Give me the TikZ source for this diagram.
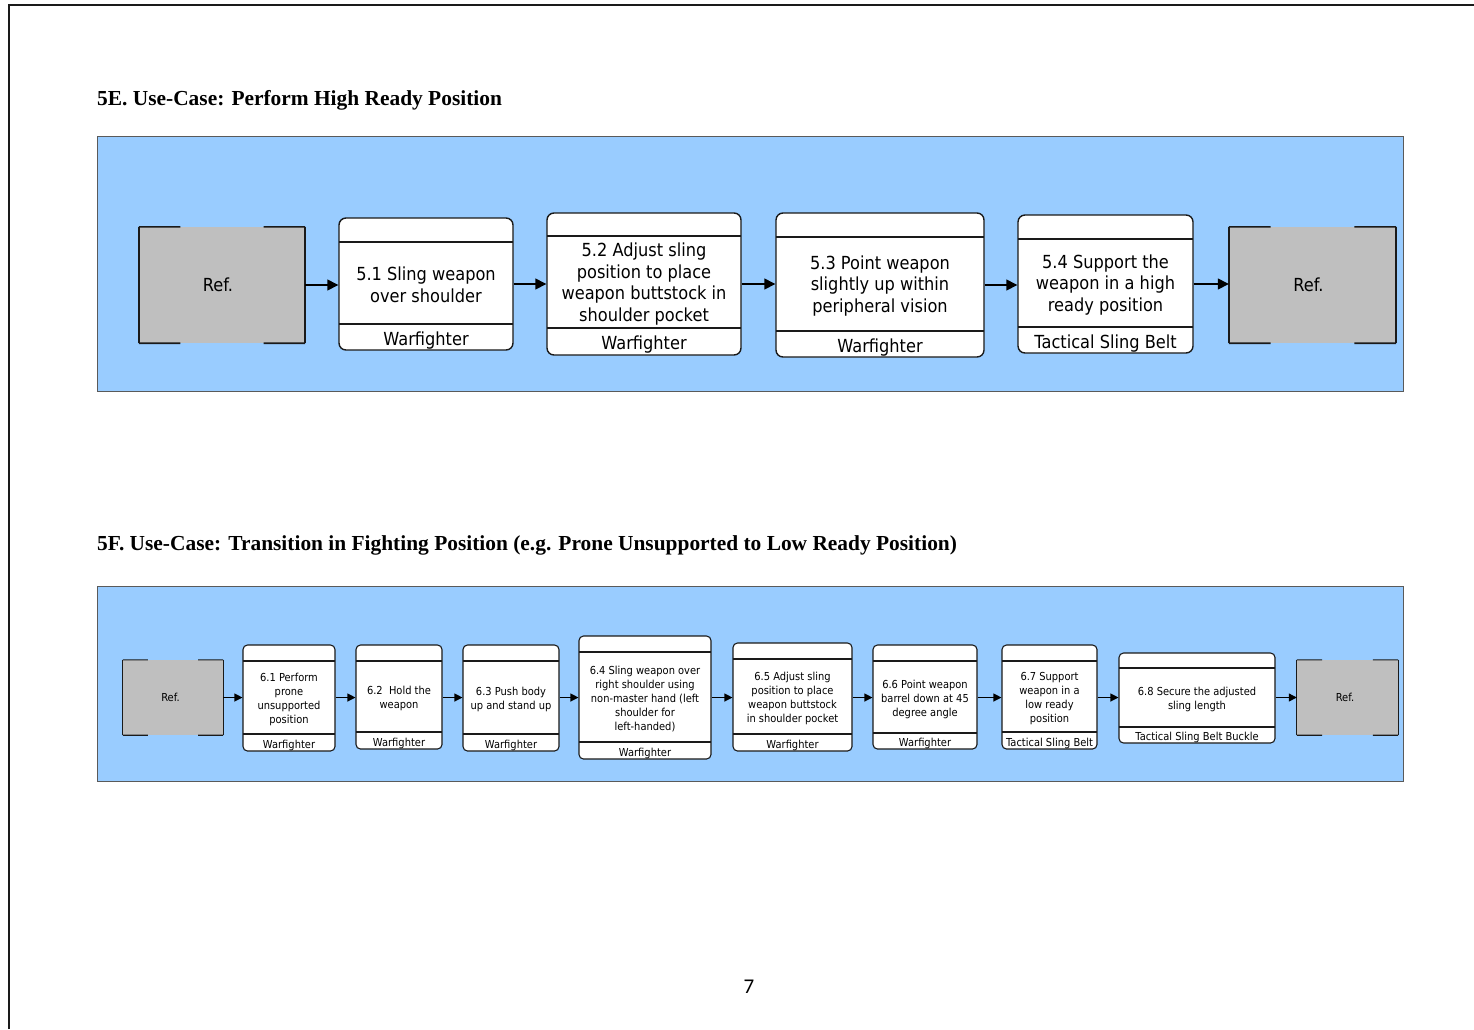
\documentclass[tikz,border=0pt]{standalone}
\usepackage{fontspec}
\setmainfont{Liberation Serif}
\newfontfamily\boxfont[FakeStretch=0.9]{DejaVu Sans}
\newfontfamily\folio{Carlito}
\usetikzlibrary{fit,calc,arrows.meta}
\definecolor{panelblue}{HTML}{99CCFF}
\definecolor{refgray}{HTML}{BFBFBF}
\definecolor{panelline}{HTML}{5A5A5A}
\definecolor{inkdark}{HTML}{1A1A1A}

% activity box: name, x1, y1, x2, y2, header line y, footer line y, action text, performer
\newcommand{\actbox}[9]{%
  \node[fit={(#2,#3) (#4,#5)}, actframe] (#1) {};
  \draw[sepline] (#2,#6) -- (#4,#6);
  \draw[sepline] (#2,#7) -- (#4,#7);
  \node[actlabel] (#1-txt) at ({(#2+#4)/2},{(#6+#7)/2}) {#8};
  \node[rolelabel] (#1-role) at ({(#2+#4)/2},{(#7+#5)/2}) {#9};
}
% reference box: name, x1, y1, x2, y2, label
\newcommand{\refbox}[6]{%
  \node[fit={(#2,#3) (#4,#5)}, inner sep=0pt, fill=refgray] (#1) {};
  \node[reflabel] at (#1) {#6};
  \draw[refedge] (#1.north west) -- (#1.south west);
  \draw[refedge] (#1.north east) -- (#1.south east);
  \draw[refedge] (#1.north west) -- ($(#1.north west)!0.25!(#1.north east)$);
  \draw[refedge] (#1.north east) -- ($(#1.north east)!0.25!(#1.north west)$);
  \draw[refedge] (#1.south west) -- ($(#1.south west)!0.25!(#1.south east)$);
  \draw[refedge] (#1.south east) -- ($(#1.south east)!0.25!(#1.south west)$);
}

\begin{document}
\begin{tikzpicture}[x=1pt, y=-1pt,
  panel/.style={fill=panelblue, draw=panelline, line width=1pt},
  heading/.style={anchor=base west, inner sep=0pt, font=\bfseries\fontsize{21.4}{24}\selectfont},
  flow/.style={draw=black, -{Triangle[length=11pt,width=11pt]}, line width=1.4pt}]

\useasboundingbox (0,0) rectangle (1474,1029);
\fill[white] (0,0) rectangle (1474,1029);

% page frame
\draw[inkdark, line width=2pt] (9,1029) -- (9,5) -- (1474,5);

% ---------- 5E ----------
\node[heading] (titleE) at (97,105) {5E. Use-Case: Perform High Ready Position};
\path[panel] (97,136) rectangle (1403,391);

\begin{scope}[
  actframe/.style={draw=inkdark, fill=white, line width=1.4pt, rounded corners=7pt, inner sep=0pt, rectangle},
  sepline/.style={draw=inkdark, line width=1.4pt},
  actlabel/.style={align=center, inner sep=0pt, yshift=-2pt, font=\boxfont\fontsize{18}{21.7}\selectfont},
  rolelabel/.style={inner sep=0pt, yshift=-3.5pt, font=\boxfont\fontsize{18}{21.7}\selectfont},
  reflabel/.style={xshift=-4pt, font=\boxfont\fontsize{18}{21.7}\selectfont},
  refedge/.style={draw=inkdark, line width=1.6pt}]
  \refbox{refE1}{139}{227}{305}{343}{Ref.}
  \actbox{s51}{339}{218}{513}{350}{242}{324}{5.1 Sling weapon\\over shoulder}{Warfighter}
  \actbox{s52}{547}{213}{741}{355}{236}{328}{5.2 Adjust sling\\position to place\\weapon buttstock in\\shoulder pocket}{Warfighter}
  \actbox{s53}{776}{213}{984}{357}{237}{331}{5.3 Point weapon\\slightly up within\\peripheral vision}{Warfighter}
  \actbox{s54}{1018}{215}{1193}{353}{239}{327}{5.4 Support the\\weapon in a high\\ready position}{Tactical Sling Belt}
  \refbox{refE2}{1229}{227}{1396}{343}{Ref.}

  \draw[flow] (refE1.east) -- (refE1.east -| s51.west);
  \draw[flow] (s51.east) -- (s51.east -| s52.west);
  \draw[flow] (s52.east) -- (s52.east -| s53.west);
  \draw[flow] (s53.east) -- (s53.east -| s54.west);
  \draw[flow] (s54.east) -- (s54.east -| refE2.west);
\end{scope}

% ---------- 5F ----------
\node[heading] (titleF) at (97,550) {5F. Use-Case: Transition in Fighting Position (e.g. Prone Unsupported to Low Ready Position)};
\path[panel] (97,586) rectangle (1403,781);

\begin{scope}[
  actframe/.style={draw=inkdark, fill=white, line width=1.1pt, rounded corners=4.5pt, inner sep=0pt, rectangle},
  sepline/.style={draw=inkdark, line width=1.1pt},
  actlabel/.style={align=center, inner sep=0pt, yshift=-2pt, font=\boxfont\fontsize{11}{14}\selectfont},
  rolelabel/.style={inner sep=0pt, yshift=-2.5pt, font=\boxfont\fontsize{11}{14}\selectfont},
  reflabel/.style={xshift=-2.5pt, font=\boxfont\fontsize{11}{14}\selectfont},
  refedge/.style={draw=inkdark, line width=1.1pt},
  flow/.style={draw=black, -{Triangle[length=8pt,width=8pt]}, line width=1.1pt}]
  \refbox{refF1}{123}{660}{223}{735}{Ref.}
  \actbox{s61}{243}{645}{335}{751}{661}{734}{6.1 Perform\\prone\\unsupported\\position}{Warfighter}
  \actbox{s62}{356}{645}{442}{749}{661}{732}{6.2\ \ Hold the\\weapon}{Warfighter}
  \actbox{s63}{463}{645}{559}{751}{661}{734}{6.3 Push body\\up and stand up}{Warfighter}
  \actbox{s64}{579}{636}{711}{759}{652}{742}{6.4 Sling weapon over\\right shoulder using\\non-master hand (left\\shoulder for\\left-handed)}{Warfighter}
  \actbox{s65}{733}{643}{852}{751}{659}{734}{6.5 Adjust sling\\position to place\\weapon buttstock\\in shoulder pocket}{Warfighter}
  \actbox{s66}{873}{645}{977}{749}{661}{733}{6.6 Point weapon\\barrel down at 45\\degree angle}{Warfighter}
  \actbox{s67}{1002}{645}{1097}{749}{661}{732}{6.7 Support\\weapon in a\\low ready\\position}{Tactical Sling Belt}
  \actbox{s68}{1119}{653}{1275}{743}{668}{727}{6.8 Secure the adjusted\\sling length}{Tactical Sling Belt Buckle}
  \refbox{refF2}{1297}{660}{1398}{735}{Ref.}

  \draw[flow] (refF1.east) -- (refF1.east -| s61.west);
  \draw[flow] (s61.east |- refF1.east) -- (refF1.east -| s62.west);
  \draw[flow] (s62.east |- refF1.east) -- (refF1.east -| s63.west);
  \draw[flow] (s63.east |- refF1.east) -- (refF1.east -| s64.west);
  \draw[flow] (s64.east |- refF1.east) -- (refF1.east -| s65.west);
  \draw[flow] (s65.east |- refF1.east) -- (refF1.east -| s66.west);
  \draw[flow] (s66.east |- refF1.east) -- (refF1.east -| s67.west);
  \draw[flow] (s67.east |- refF1.east) -- (refF1.east -| s68.west);
  \draw[flow] (s68.east |- refF1.east) -- (refF1.east -| refF2.west);
\end{scope}

% page number
\node[anchor=base, inner sep=0pt, font=\folio\fontsize{21}{24}\selectfont] (pageno) at (749,993) {7};
\end{tikzpicture}
\end{document}
